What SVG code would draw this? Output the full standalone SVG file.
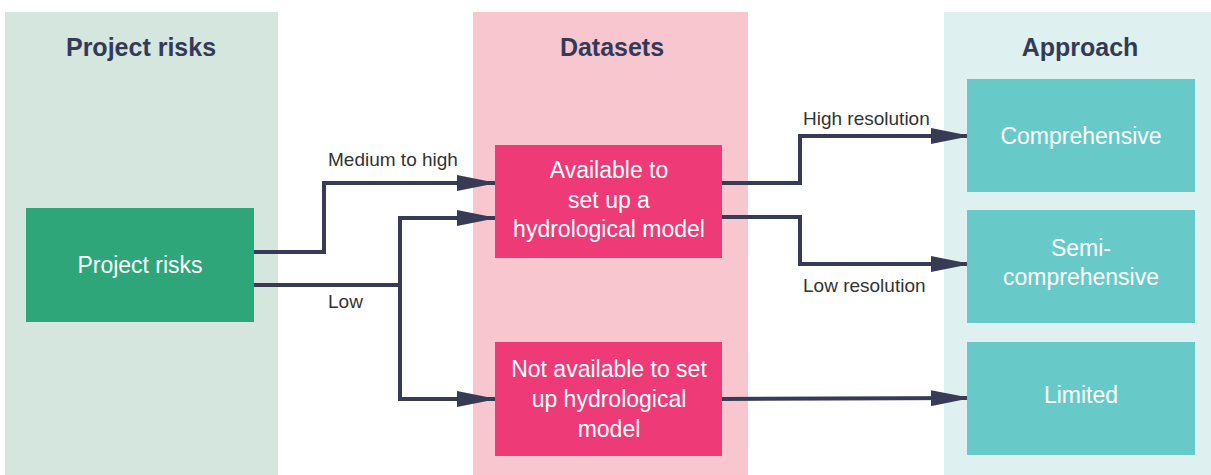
<svg xmlns="http://www.w3.org/2000/svg" width="1211" height="475" viewBox="0 0 1211 475">
<defs>
<style>
.title{font-family:"Liberation Sans",Arial,sans-serif;font-weight:bold;font-size:25px;fill:#343a56;text-anchor:middle}
.nt{font-family:"Liberation Sans",Arial,sans-serif;font-size:23px;fill:#ffffff;text-anchor:middle}
.lbl{font-family:"Liberation Sans",Arial,sans-serif;font-size:19px;fill:#333333}
.conn{fill:none;stroke:#373b56;stroke-width:4;stroke-linejoin:miter}
</style>
<marker id="arr" markerUnits="userSpaceOnUse" markerWidth="40" markerHeight="16" refX="38" refY="8" orient="auto">
<path d="M0,0 L40,8 L0,16 Z" fill="#373b56"/>
</marker>
</defs>
<rect width="1211" height="475" fill="#ffffff"/>
<g id="col-risks">
<rect x="5" y="12" width="273" height="463" fill="#d5e6de"/>
<text class="title" x="141" y="56">Project risks</text>
</g>
<g id="col-datasets">
<rect x="473" y="12" width="275" height="463" fill="#f7c6cf"/>
<text class="title" x="612" y="56">Datasets</text>
</g>
<g id="col-approach">
<rect x="944" y="12" width="267" height="463" fill="#dff0f0"/>
<text class="title" x="1080" y="56">Approach</text>
</g>
<g id="connectors">
<polyline class="conn" points="254,252 324,252 324,183 495,183" marker-end="url(#arr)"/>
<polyline class="conn" points="254,285 400,285 400,218 495,218" marker-end="url(#arr)"/>
<polyline class="conn" points="400,285 400,399 495,399" marker-end="url(#arr)"/>
<polyline class="conn" points="722,183 800,183 800,136 969,136" marker-end="url(#arr)"/>
<polyline class="conn" points="722,217 800,217 800,264 969,264" marker-end="url(#arr)"/>
<polyline class="conn" points="722,399 969,398" marker-end="url(#arr)"/>
<text class="lbl" x="328" y="166">Medium to high</text>
<text class="lbl" x="328" y="308">Low</text>
<text class="lbl" x="803" y="125">High resolution</text>
<text class="lbl" x="803" y="292">Low resolution</text>
</g>
<g id="node-project-risks">
<rect x="26" y="208" width="228" height="114" fill="#2ea67a"/>
<text class="nt" x="140" y="273">Project risks</text>
</g>
<g id="node-available">
<rect x="495" y="145" width="227" height="113" fill="#ee3b77"/>
<text class="nt" x="609" y="178">Available to</text>
<text class="nt" x="609" y="208">set up a</text>
<text class="nt" x="609" y="237">hydrological model</text>
</g>
<g id="node-not-available">
<rect x="495" y="342" width="227" height="114" fill="#ee3b77"/>
<text class="nt" x="609" y="377">Not available to set</text>
<text class="nt" x="609" y="407">up hydrological</text>
<text class="nt" x="609" y="437">model</text>
</g>
<g id="node-comprehensive">
<rect x="967" y="79" width="228" height="113" fill="#68cac8"/>
<text class="nt" x="1081" y="144">Comprehensive</text>
</g>
<g id="node-semi">
<rect x="967" y="210" width="228" height="113" fill="#68cac8"/>
<text class="nt" x="1081" y="256">Semi-</text>
<text class="nt" x="1081" y="285">comprehensive</text>
</g>
<g id="node-limited">
<rect x="967" y="342" width="228" height="113" fill="#68cac8"/>
<text class="nt" x="1081" y="403">Limited</text>
</g>
</svg>
